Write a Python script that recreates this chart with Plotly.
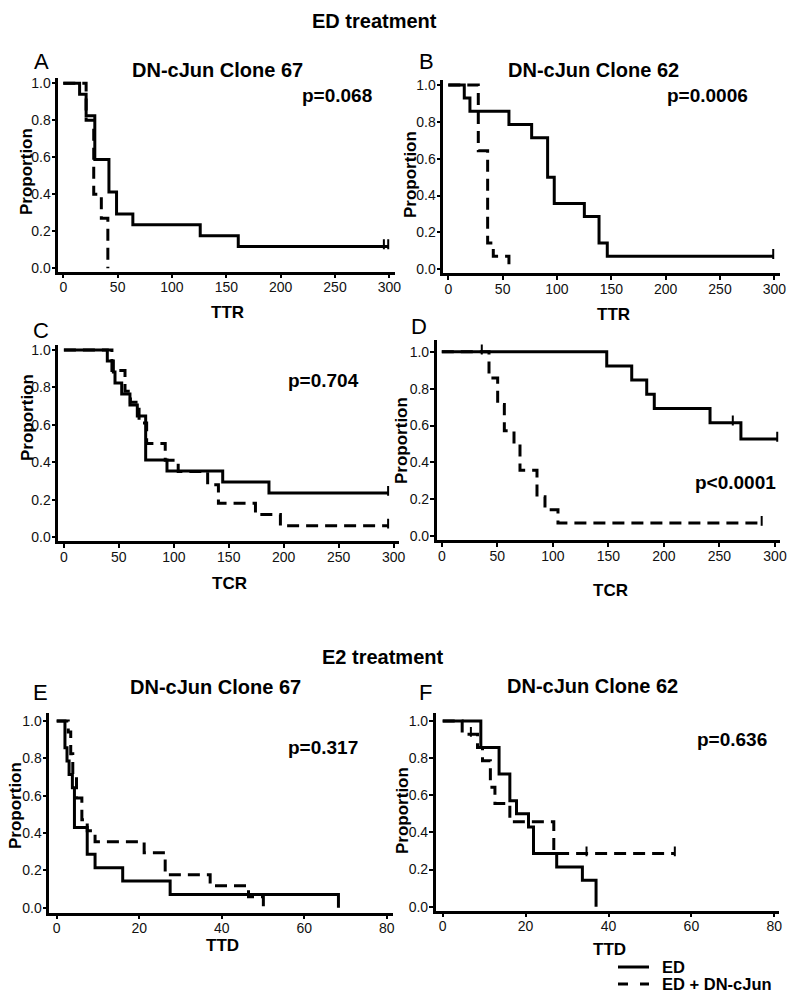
import plotly.graph_objects as go

W, H = 800, 1004

# ---------------- data ----------------
# Panel A: ED treatment, DN-cJun clone 67, TTR
A_ed_t = [0, 15, 21, 29, 42, 49, 64, 126, 161, 299]
A_ed_s = [1.0, 0.941, 0.824, 0.588, 0.412, 0.294, 0.235, 0.176, 0.118, 0.118]
A_ed_c = [295, 299]
A_dn_t = [0, 21, 28, 35, 41]
A_dn_s = [1.0, 0.8, 0.4, 0.27, 0.0]
A_dn_c = []

# Panel B: ED treatment, DN-cJun clone 62, TTR
B_ed_t = [0, 14.7, 19.9, 55.8, 76.7, 91.4, 97.5, 125.2, 138.7, 146.3, 299]
B_ed_s = [1.0, 0.929, 0.857, 0.786, 0.714, 0.5, 0.357, 0.286, 0.143, 0.071, 0.071]
B_ed_c = [299]
B_dn_t = [0, 27.6, 36.2, 41.4, 55.8]
B_dn_s = [1.0, 0.643, 0.143, 0.071, 0.0]
B_dn_c = []

# Panel C: ED treatment, clone 67, TCR
C_ed_t = [0, 39.5, 45, 46.5, 52.6, 60.1, 66.8, 74.4, 93.8, 144.5, 186.6, 295]
C_ed_s = [1.0, 0.941, 0.882, 0.824, 0.765, 0.706, 0.647, 0.412, 0.353, 0.294, 0.235, 0.235]
C_ed_c = [295]
C_dn_t = [0, 43.7, 55.6, 60.5, 68.4, 75.3, 92.2, 104, 130.8, 140.6, 174.3, 197, 295]
C_dn_s = [1.0, 0.89, 0.78, 0.72, 0.61, 0.50, 0.41, 0.35, 0.28, 0.18, 0.12, 0.06, 0.06]
C_dn_c = [295]

# Panel D: ED treatment, clone 62, TCR
D_ed_t = [0, 148.5, 171, 184.5, 191.3, 241.5, 269.3, 302]
D_ed_s = [1.0, 0.923, 0.846, 0.769, 0.692, 0.615, 0.527, 0.527]
D_ed_c = [36, 262, 302]
D_dn_t = [0, 42.5, 50.3, 56.3, 65, 70.4, 85.7, 92.9, 104.6, 288]
D_dn_s = [1.0, 0.857, 0.714, 0.571, 0.5, 0.357, 0.214, 0.143, 0.071, 0.071]
D_dn_c = [288]

# Panel E: E2 treatment, clone 67, TTD
E_ed_t = [0, 2.0, 2.5, 3.0, 3.8, 4.3, 7.4, 9.3, 16, 27.5, 68.3]
E_ed_s = [1.0, 0.857, 0.786, 0.714, 0.643, 0.429, 0.286, 0.214, 0.143, 0.071, 0.0]
E_ed_c = []
E_dn_t = [0, 2.8, 3.4, 3.9, 4.8, 6.1, 7.4, 9.3, 21.2, 26.3, 37.2, 46.5, 50.1]
E_dn_s = [1.0, 0.941, 0.824, 0.706, 0.588, 0.471, 0.412, 0.353, 0.294, 0.176, 0.118, 0.059, 0.0]
E_dn_c = []

# Panel F: E2 treatment, clone 62, TTD
F_ed_t = [0, 9.2, 13.6, 16.2, 17.8, 20.7, 21.9, 27.5, 33.7, 37.0]
F_ed_s = [1.0, 0.857, 0.714, 0.571, 0.5, 0.429, 0.286, 0.214, 0.143, 0.0]
F_ed_c = []
F_dn_t = [0, 4.7, 8.4, 9.6, 11.5, 12.6, 16.2, 26.8, 56]
F_dn_s = [1.0, 0.929, 0.857, 0.786, 0.643, 0.556, 0.457, 0.286, 0.286]
F_dn_c = [6.8, 34.7, 56]

p_values = ["p=0.068", "p=0.0006", "p=0.704", "p<0.0001", "p=0.317", "p=0.636"]
panel_letters = ["A", "B", "C", "D", "E", "F"]
panel_titles = ["DN-cJun Clone 67", "DN-cJun Clone 62", "", "", "DN-cJun Clone 67", "DN-cJun Clone 62"]
x_titles = ["TTR", "TTR", "TCR", "TCR", "TTD", "TTD"]
x_dticks = [50, 50, 50, 50, 20, 20]
series_names = ["ED", "ED + DN-cJun"]

# ---------------- layout geometry (pixels) ----------------
# left, right, top, bottom of axes box; pixel of x=0, px per unit; pixel of y=0, px per unit
geom = [
    (58.3, 395.0, 78.0, 271.7, 63.3, 1.0867, 268.3, 185.0),
    (443.3, 780.0, 80.0, 273.3, 448.3, 1.0867, 269.3, 184.3),
    (58.3, 398.6, 345.0, 541.0, 63.9, 1.099, 537.0, 187.0),
    (436.7, 780.0, 340.0, 540.0, 441.8, 1.1107, 536.2, 184.5),
    (49.3, 393.0, 712.7, 912.7, 56.7, 4.125, 907.7, 186.7),
    (435.7, 779.0, 713.3, 910.7, 442.7, 4.145, 906.7, 185.7),
]
letter_pos = [(41, 62), (427, 62), (41, 331), (419, 327), (40.5, 692), (425, 692)]
title_pos = [(217, 70), (593, 70), None, None, (215, 687), (592, 686)]
p_pos = [(337, 95), (707, 95), (323, 380), (735, 482), (323, 747), (732, 739)]
ytitle_pos = [(27, 172), (410, 174), (27, 418), (401, 441), (15, 806), (402, 810)]
xtitle_pos = [(227, 313), (613, 315), (230, 583), (610, 590), (222, 945), (609, 949)]

data = [
    (A_ed_t, A_ed_s, A_ed_c, A_dn_t, A_dn_s, A_dn_c),
    (B_ed_t, B_ed_s, B_ed_c, B_dn_t, B_dn_s, B_dn_c),
    (C_ed_t, C_ed_s, C_ed_c, C_dn_t, C_dn_s, C_dn_c),
    (D_ed_t, D_ed_s, D_ed_c, D_dn_t, D_dn_s, D_dn_c),
    (E_ed_t, E_ed_s, E_ed_c, E_dn_t, E_dn_s, E_dn_c),
    (F_ed_t, F_ed_s, F_ed_c, F_dn_t, F_dn_s, F_dn_c),
]

FONT = "Arial, Liberation Sans, Helvetica, sans-serif"
LW = 3
DASH = "12px,7px"


def px2x(px):
    return px / W


def py2y(py):
    return 1 - py / H


fig = go.Figure()
layout_axes = {}
annotations = []


def ann(text, pos, size, bold=True, angle=0, xanchor="center"):
    annotations.append(dict(text=("<b>%s</b>" % text) if bold else text, x=px2x(pos[0]), y=py2y(pos[1]),
                            xref="paper", yref="paper", showarrow=False, xanchor=xanchor, yanchor="middle",
                            textangle=angle, font=dict(family=FONT, size=size, color="black")))


for i, (g, d) in enumerate(zip(geom, data)):
    left, right, top, bottom, x0, xs, y0, ys = g
    ed_t, ed_s, ed_c, dn_t, dn_s, dn_c = d
    n = "" if i == 0 else str(i + 1)
    xa, ya = "x" + n, "y" + n
    fig.add_trace(go.Scatter(x=ed_t, y=ed_s, mode="lines", line=dict(color="black", width=LW, shape="hv"),
                             xaxis=xa, yaxis=ya, name=series_names[0], showlegend=False, hoverinfo="skip"))
    fig.add_trace(go.Scatter(x=dn_t, y=dn_s, mode="lines", line=dict(color="black", width=LW, shape="hv", dash=DASH),
                             xaxis=xa, yaxis=ya, name=series_names[1], showlegend=False, hoverinfo="skip"))
    # censor ticks
    for ct, t, s in ((ed_c, ed_t, ed_s), (dn_c, dn_t, dn_s)):
        if ct:
            yv = []
            for c in ct:
                v = s[0]
                for tt, ss in zip(t, s):
                    if tt <= c:
                        v = ss
                yv.append(v)
            fig.add_trace(go.Scatter(x=ct, y=[v + 0.012 for v in yv], mode="markers",
                                     marker=dict(symbol="line-ns", size=7, line=dict(width=2, color="black")),
                                     xaxis=xa, yaxis=ya, showlegend=False, hoverinfo="skip"))

    xr = [(left - x0) / xs, (right - x0) / xs]
    yr = [(y0 - bottom) / ys, (y0 - top) / ys]
    common = dict(showline=True, linecolor="black", linewidth=2.5, ticks="outside", ticklen=4, tickwidth=1.5,
                  tickcolor="black", showgrid=False, zeroline=False, automargin=False,
                  tickfont=dict(family=FONT, size=14, color="#111"), fixedrange=True)
    layout_axes["xaxis" + n] = dict(domain=[px2x(left), px2x(right)], range=xr, anchor=ya, tick0=0,
                                    dtick=x_dticks[i], ticklabelstandoff=-3, **common)
    layout_axes["yaxis" + n] = dict(domain=[py2y(bottom), py2y(top)], range=yr, anchor=xa, tick0=0, dtick=0.2,
                                    tickformat=".1f", ticklabelstandoff=-2, **common)

    ann(panel_letters[i], letter_pos[i], 22, bold=False)
    if title_pos[i]:
        ann(panel_titles[i], title_pos[i], 20)
    ann(p_values[i], p_pos[i], 19)
    ann("Proportion", ytitle_pos[i], 17, angle=-90)
    ann(x_titles[i], xtitle_pos[i], 17)

ann("ED treatment", (374, 21), 20)
ann("E2 treatment", (382, 657), 20)

# legend (drawn manually to match compact spacing)
legend_y = [967, 984]
legend_dash = ["solid", "10px,12px"]
shapes = []
for name, ly, dsh in zip(series_names, legend_y, legend_dash):
    shapes.append(dict(type="line", xref="paper", yref="paper", x0=px2x(618), x1=px2x(649),
                       y0=py2y(ly), y1=py2y(ly), line=dict(color="black", width=3, dash=dsh)))
    ann(name, (660, ly), 16.5, xanchor="left")

fig.update_layout(
    width=W, height=H, margin=dict(l=0, r=0, t=0, b=0, pad=0),
    paper_bgcolor="white", plot_bgcolor="white",
    showlegend=False,
    annotations=annotations,
    shapes=shapes,
    **layout_axes,
)

fig.write_html("out.html", config={"displayModeBar": False},
               post_script="document.body.style.margin='0';document.body.style.padding='0';")
